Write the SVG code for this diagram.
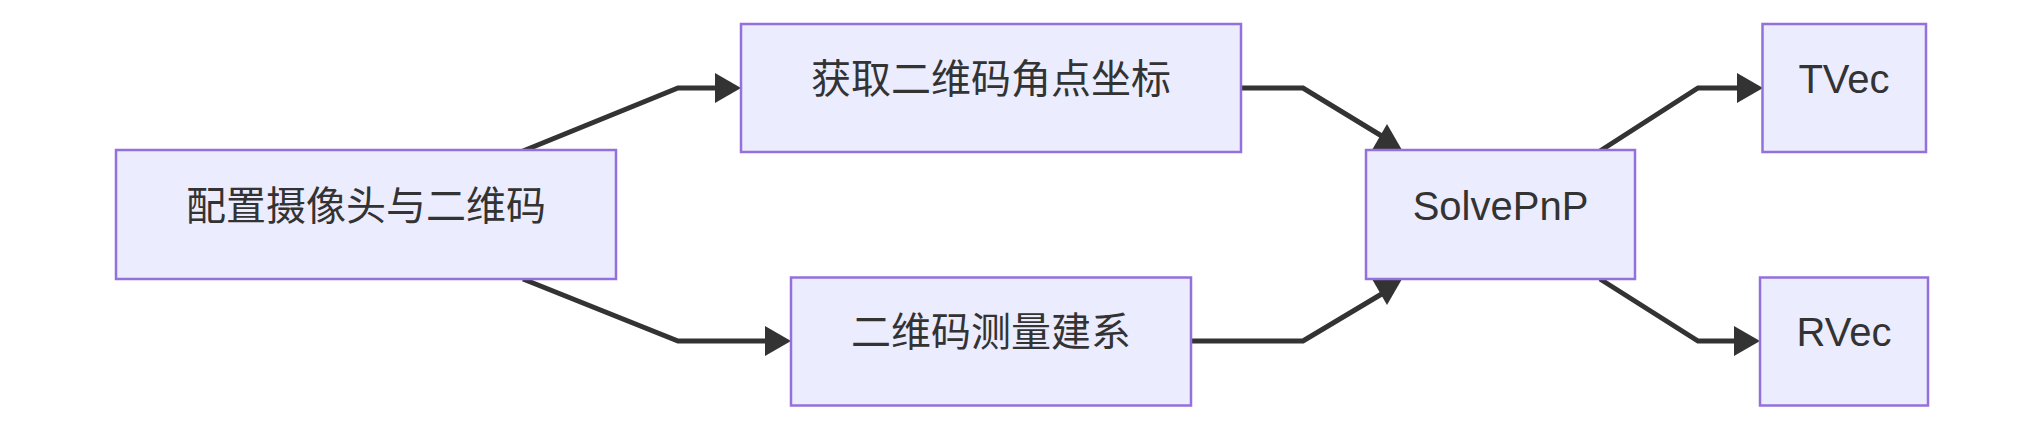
<svg xmlns="http://www.w3.org/2000/svg" width="2024" height="436" viewBox="0 0 2024 436">
<style>
  .node rect { fill: #ECECFF; stroke: #9370DB; stroke-width: 2.5; }
  .node text { font-family: "Liberation Sans", Arial, "Noto Sans CJK SC", sans-serif; font-size: 40px; fill: #333333; text-anchor: middle; }
  .edge { fill: none; stroke: #333333; stroke-width: 5; stroke-linejoin: miter; }
  .head { fill: #333333; }
</style>
<defs>
  <path id="ah" d="M0,0 L-26,-15 L-26,15 Z"/>
</defs>
<rect width="2024" height="436" fill="#ffffff"/>
<g id="connectors">
  <path class="edge" d="M523,151 L678,88 L718,88"/>
  <use href="#ah" class="head" transform="translate(741,88)"/>
  <path class="edge" d="M523,279 L678,341 L768,341"/>
  <use href="#ah" class="head" transform="translate(791,341)"/>
  <path class="edge" d="M1241,88 L1303,88 L1385,138"/>
  <use href="#ah" class="head" transform="translate(1387,124) rotate(-90)"/>
  <path class="edge" d="M1191,341 L1303,341 L1385,292"/>
  <use href="#ah" class="head" transform="translate(1387,305) rotate(90)"/>
  <path class="edge" d="M1600,151 L1698,88 L1740,88"/>
  <use href="#ah" class="head" transform="translate(1763,88)"/>
  <path class="edge" d="M1600,279 L1698,341 L1737,341"/>
  <use href="#ah" class="head" transform="translate(1760,341)"/>
</g>
<g id="node-A" class="node">
  <rect x="116" y="150" width="500" height="129"/>
  <text x="366" y="219.5">配置摄像头与二维码</text>
</g>
<g id="node-B" class="node">
  <rect x="741" y="24" width="500" height="128"/>
  <text x="991" y="92.5">获取二维码角点坐标</text>
</g>
<g id="node-C" class="node">
  <rect x="791" y="277.5" width="400" height="128"/>
  <text x="991" y="346">二维码测量建系</text>
</g>
<g id="node-D" class="node">
  <rect x="1366" y="150" width="269" height="129"/>
  <text x="1500.5" y="219.5">SolvePnP</text>
</g>
<g id="node-TVec" class="node">
  <rect x="1762.5" y="24" width="163.5" height="128"/>
  <text x="1844" y="92.5">TVec</text>
</g>
<g id="node-RVec" class="node">
  <rect x="1760" y="277.5" width="168" height="128"/>
  <text x="1844" y="346">RVec</text>
</g>
</svg>
